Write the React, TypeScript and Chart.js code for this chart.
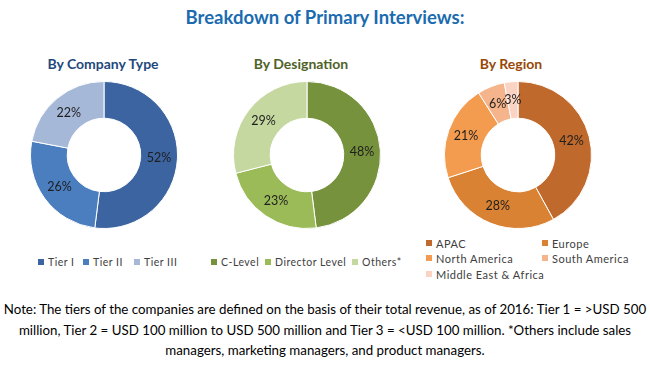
import React, { useEffect, useRef } from "react";
import { Chart, registerables } from "chart.js";

Chart.register(...registerables);

const companyLabels = ["Tier I", "Tier II", "Tier III"];
const companyValues = [52, 26, 22];
const companyColors = ["#3b64a0", "#4a7ebf", "#a6b8d8"];

const designationLabels = ["C-Level", "Director Level", "Others*"];
const designationValues = [48, 23, 29];
const designationColors = ["#76923c", "#9bbb59", "#c4d8a0"];

const regionLabels = ["APAC", "Europe", "North America", "South America", "Middle East & Africa"];
const regionValues = [42, 28, 21, 6, 3];
const regionColors = ["#c0692c", "#da8234", "#f39b4f", "#f6b48c", "#fbd3c3"];

const FONT = "Lato, 'Open Sans', sans-serif";

const labelPlugin = {
  id: "pctLabels",
  afterDatasetsDraw(chart: any) {
    const ctx = chart.ctx;
    const meta = chart.getDatasetMeta(0);
    const data = chart.data.datasets[0].data;
    ctx.save();
    ctx.font = `12.5px ${FONT}`;
    ctx.fillStyle = "#1e1e1e";
    ctx.textAlign = "center";
    ctx.textBaseline = "middle";
    meta.data.forEach((arc: any, i: number) => {
      const p = arc.tooltipPosition();
      ctx.fillText(`${data[i]}%`, p.x, p.y);
    });
    ctx.restore();
  },
};

function Donut(props: { labels: string[]; values: number[]; colors: string[]; cx: number; cy: number }) {
  const ref = useRef<HTMLCanvasElement>(null);
  const size = 148;
  useEffect(() => {
    if (!ref.current) return;
    const chart = new Chart(ref.current, {
      type: "doughnut",
      data: {
        labels: props.labels,
        datasets: [
          {
            data: props.values,
            backgroundColor: props.colors,
            borderColor: "#ffffff",
            borderWidth: 1,
            hoverOffset: 0,
          },
        ],
      },
      options: {
        responsive: false,
        animation: false,
        cutout: "50%",
        layout: { padding: 0 },
        plugins: { legend: { display: false }, tooltip: { enabled: false } },
      },
      plugins: [labelPlugin],
    });
    return () => chart.destroy();
  }, []);
  return (
    <canvas
      ref={ref}
      width={size}
      height={size}
      style={{ position: "absolute", left: props.cx - size / 2, top: props.cy - size / 2, width: size, height: size }}
    />
  );
}

function LegendItem(props: { color: string; text: string; x: number; y: number; size?: number }) {
  return (
    <div
      style={{
        position: "absolute",
        left: props.x,
        top: props.y - 7,
        height: 14,
        display: "flex",
        alignItems: "center",
        whiteSpace: "nowrap",
        font: `${props.size || 10.5}px ${FONT}`,
        letterSpacing: "0.5px",
        color: "#404040",
      }}
    >
      <span style={{ display: "inline-block", width: 6, height: 6, background: props.color, marginRight: 4 }} />
      {props.text}
    </div>
  );
}

export default function App() {
  const companyLegendX = [38, 83, 134];
  const designationLegendX = [211, 265, 352];
  const regionLegendPos = [
    [426, 243],
    [542, 243],
    [426, 258],
    [542, 258],
    [426, 274],
  ];
  return (
    <div
      style={{
        position: "fixed",
        left: 0,
        top: 0,
        width: 650,
        height: 369,
        background: "#fff",
        overflow: "hidden",
        fontFamily: FONT,
      }}
    >
      <div
        style={{
          position: "absolute",
          left: 0,
          width: 650,
          top: 6,
          textAlign: "center",
          font: `bold 18.5px ${FONT}`,
          color: "#1a6bb0",
        }}
      >
        Breakdown of Primary Interviews:
      </div>
      <div style={{ position: "absolute", left: 3, width: 200, top: 55, textAlign: "center", font: `bold 14px ${FONT}`, color: "#1f497d" }}>
        By Company Type
      </div>
      <div style={{ position: "absolute", left: 201, width: 200, top: 55, textAlign: "center", font: `bold 14px ${FONT}`, color: "#4f6228" }}>
        By Designation
      </div>
      <div style={{ position: "absolute", left: 411, width: 200, top: 55, textAlign: "center", font: `bold 14px ${FONT}`, color: "#984807" }}>
        By Region
      </div>

      <Donut labels={companyLabels} values={companyValues} colors={companyColors} cx={104} cy={155} />
      <Donut labels={designationLabels} values={designationValues} colors={designationColors} cx={307} cy={155} />
      <Donut labels={regionLabels} values={regionValues} colors={regionColors} cx={518} cy={155} />

      {companyLabels.map((t, i) => (
        <LegendItem key={t} color={companyColors[i]} text={t} x={companyLegendX[i]} y={262} />
      ))}
      {designationLabels.map((t, i) => (
        <LegendItem key={t} color={designationColors[i]} text={t} x={designationLegendX[i]} y={262} />
      ))}
      {regionLabels.map((t, i) => (
        <LegendItem key={t} color={regionColors[i]} text={t} x={regionLegendPos[i][0]} y={regionLegendPos[i][1]} size={11} />
      ))}

      <div
        style={{
          position: "absolute",
          left: 0,
          width: 650,
          top: 299,
          textAlign: "center",
          font: `13.3px ${FONT}`,
          lineHeight: "20.5px",
          color: "#000",
          whiteSpace: "nowrap",
        }}
      >
        Note: The tiers of the companies are defined on the basis of their total revenue, as of 2016: Tier 1 = &gt;USD 500
        <br />
        million, Tier 2 = USD 100 million to USD 500 million and Tier 3 = &lt;USD 100 million. *Others include sales
        <br />
        managers, marketing managers, and product managers.
      </div>
    </div>
  );
}
